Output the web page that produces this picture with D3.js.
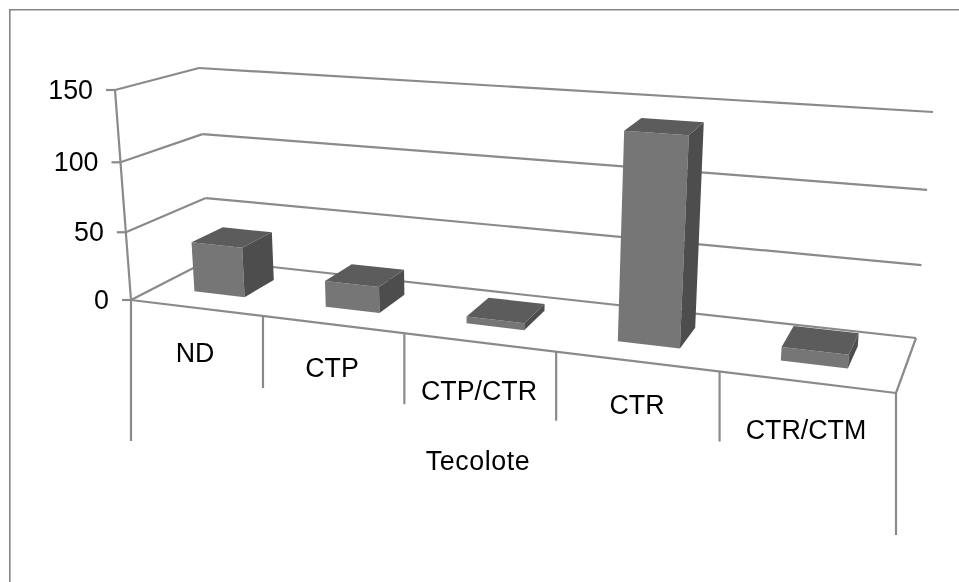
<!DOCTYPE html>
<html><head><meta charset="utf-8">
<script src="https://cdn.jsdelivr.net/npm/d3@7"></script>
<style>html,body{margin:0;padding:0;background:#fff}svg{display:block}text{font-family:"Liberation Sans",Arial,sans-serif;fill:#000}</style>
</head><body><svg id="c" width="959" height="582"><defs><filter id="soft" x="0" y="0" width="100%" height="100%"><feGaussianBlur stdDeviation="0.45"/></filter></defs><g id="root" filter="url(#soft)"></g></svg>
<script>
const categories = ["ND","CTP","CTP/CTR","CTR","CTR/CTM"];
const values = [37,19,5,140,9];
const yTicks = [0,50,100,150];
const groupLabel = "Tecolote";

const svg = d3.select("#root");
const LINE = "#8a8a8a", FRONT = "#767676", SIDE = "#4e4e4e", TOP = "#5b5b5b";
const FS = 26.8;

// scene corners [u, depth, height]
const corners = {
  "000":[131,300], "100":[896,393], "010":[209,260], "110":[916,338],
  "001":[115,90],  "101":[917,146], "011":[199,68],  "111":[933,112]
};
const band = d3.scaleBand().domain(categories).range([0,1]);
const yScale = d3.scaleLinear().domain([0,150]).range([0,1]);
const warp = k => t => t/(t+(1-t)*k);
const wu = warp(1.199), wh = warp(1.05);
function P(u,d,v){
  const U = wu(u), H = wh(yScale(v));
  const l=(a,b,t)=>[a[0]+(b[0]-a[0])*t,a[1]+(b[1]-a[1])*t];
  const c=k=>corners[k];
  const f0=l(c("000"),c("100"),U), f1=l(c("001"),c("101"),U);
  const b0=l(c("010"),c("110"),U), b1=l(c("011"),c("111"),U);
  return l(l(f0,b0,d),l(f1,b1,d),H);
}
const poly=(pts,fill)=>svg.append("polygon").attr("points",pts.map(p=>p.join(",")).join(" ")).attr("fill",fill);
const line=(a,b,w=2.2)=>svg.append("line").attr("x1",a[0]).attr("y1",a[1]).attr("x2",b[0]).attr("y2",b[1]).attr("stroke",LINE).attr("stroke-width",w);
const label=(s,x,y,anchor="middle")=>svg.append("text").attr("x",x).attr("y",y).attr("text-anchor",anchor).attr("font-size",FS).text(s);

// outer frame (open on the right)
svg.append("path").attr("d","M9.3,582V9.3H959").attr("fill","none").attr("stroke","#858585").attr("stroke-width",2.6);

// walls, gridlines, ticks
yTicks.forEach(t=>{
  const a=P(0,0,t), b=P(0,1,t), c=P(1,1,t);
  line(a,b); line(b,c);
  line([a[0]-9,a[1]],a);
  label(String(t),a[0]-22,a[1]+9,"end");
});
line(P(0,0,0),P(0,0,150));
// floor
line(P(0,0,0),P(1,0,0)); line(P(1,0,0),P(1,1,0));

// category dividers
const tickDrop=[141,72,71,69,70,142];
const edges=band.domain().map(c=>band(c)).concat([1]);
edges.forEach((u,i)=>{const p=P(u,0,0); line(p,[p[0],p[1]+tickDrop[i]]);});
const labelPos=[[195,362],[332,377],[479,400],[637,414],[806,439]];
categories.forEach((c,i)=>label(c,labelPos[i][0],labelPos[i][1]));
label(groupLabel,478,470).attr("letter-spacing",0.6);

// bars
const d0=.33,d1=.74;
categories.forEach((c,i)=>{
  const u0=band(c)+band.bandwidth()*.30,u1=band(c)+band.bandwidth()*.69,v=values[i];
  poly([P(u0,d0,0),P(u1,d0,0),P(u1,d0,v),P(u0,d0,v)],FRONT);
  poly([P(u1,d0,0),P(u1,d1,0),P(u1,d1,v),P(u1,d0,v)],SIDE);
  poly([P(u0,d0,v),P(u1,d0,v),P(u1,d1,v),P(u0,d1,v)],TOP);
});
</script></body></html>
